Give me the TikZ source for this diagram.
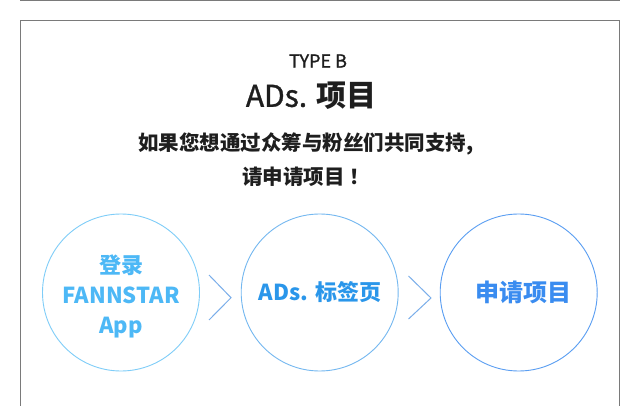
\documentclass[tikz,border=0pt]{standalone}
\usepackage{fontspec}
\setmainfont{Noto Sans CJK SC}
\newfontfamily\cjk{Noto Sans CJK SC}
\newfontfamily\cjkmed[FakeBold=1.2]{Noto Sans CJK SC}
\definecolor{framegray}{HTML}{7A7A7A}
\definecolor{txtdark}{HTML}{1E1E1E}
\definecolor{ringA}{HTML}{7FCDF8}
\definecolor{ringB}{HTML}{74B8F0}
\definecolor{ringC}{HTML}{5A9EF2}
\definecolor{textA}{HTML}{4DB8F6}
\definecolor{textB}{HTML}{2A96EA}
\definecolor{textC}{HTML}{3A8CF0}
\definecolor{chev}{HTML}{7AAEEA}
\begin{document}
\begin{tikzpicture}[x=1pt,y=-1pt,
  ring/.style={circle,draw=#1,line width=0.9pt,minimum size=157pt,inner sep=0pt},
  label/.style={inner sep=0pt,align=center},
  chevline/.style={draw=chev,line width=1pt,line join=miter},
  framel/.style={draw=framegray,line width=1.3pt}]
\useasboundingbox (0,0) rectangle (640,406);
\fill[white] (0,0) rectangle (640,406);
% frame
\coordinate (tl) at (20,0.6);
\coordinate (tr) at (619.5,0.6);
\draw[framel] (tl) -- (tr);
\coordinate (bl) at (20.2,407);
\coordinate (ul) at (20.2,20.6);
\coordinate (ur) at (619.3,20.6);
\coordinate (br) at (619.3,407);
\draw[framel] (bl) -- (ul) -- (ur) -- (br);
% headings
\node[label,text=txtdark,font=\cjkmed\fontsize{18}{20}\selectfont] (type) at (318,61) {TYPE B};
\node[label,text=txtdark,font=\cjkmed\fontsize{30}{32}\selectfont] (title) at (311,96) {ADs. {\cjk\bfseries 项目}};
\node[label,text=txtdark,font=\cjk\bfseries\fontsize{20.5}{34}\selectfont] (desc) at (306,159.5) {如果您想通过众筹与粉丝们共同支持,\\请申请项目 ！};
% circles
\node[ring=ringA] (c1) at (121,292.5) {};
\node[ring=ringB] (c2) at (319.7,292.5) {};
\node[ring=ringC] (c3) at (518.7,292.5) {};
\node[label,text=textA,font=\cjk\bfseries\fontsize{22}{30}\selectfont] (t1) at (121,296) {登录\\FANNSTAR\\App};
\node[label,text=textB,font=\cjk\bfseries\fontsize{22}{26}\selectfont] (t2) at (320,292.5) {ADs. 标签页};
\node[label,text=textC,font=\cjk\bfseries\fontsize{24}{28}\selectfont] (t3) at (523,292.5) {申请项目};
% chevrons
\coordinate (k1a) at (209,275);
\coordinate (k1b) at (231,297.7);
\coordinate (k1c) at (209,320);
\draw[chevline] (k1a) -- (k1b) -- (k1c);
\coordinate (k2a) at (408.5,276);
\coordinate (k2b) at (431,298);
\coordinate (k2c) at (408.5,319);
\draw[chevline] (k2a) -- (k2b) -- (k2c);
\end{tikzpicture}
\end{document}
